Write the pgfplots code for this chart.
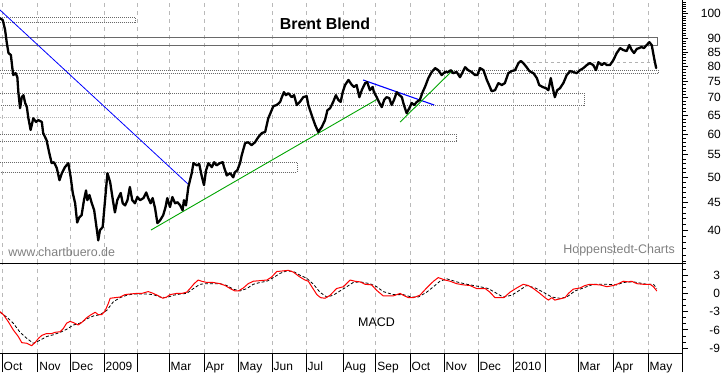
\documentclass[border=0pt]{standalone}
\usepackage{fontspec}
\setmainfont{Liberation Sans}
\usepackage{pgfplots}
\pgfplotsset{compat=1.18}
\usepackage{pgfplotstable}

\definecolor{rectgray}{RGB}{105,105,105}
\definecolor{gridgray}{RGB}{185,185,185}
\definecolor{txtgray}{RGB}{128,128,128}
\definecolor{tlgreen}{RGB}{0,165,0}
\definecolor{tlblue}{RGB}{0,0,255}

\pgfplotstableread{
m v
-0.06 98.0
0.02 97.3
0.09 93.3
0.14 88.3
0.19 84.6
0.26 83.9
0.30 79.7
0.33 77.1
0.40 77.7
0.45 76.4
0.48 71.7
0.53 67.0
0.58 70.2
0.63 70.8
0.68 68.5
0.73 67.3
0.77 64.5
0.84 61.1
0.92 64.2
1.00 63.2
1.07 63.7
1.17 63.2
1.21 60.3
1.31 58.5
1.39 55.4
1.46 53.1
1.53 53.3
1.61 52.0
1.69 49.4
1.76 50.9
1.85 52.2
1.95 53.1
2.02 50.0
2.08 46.8
2.15 44.8
2.21 41.3
2.27 42.2
2.34 42.6
2.41 45.4
2.47 47.3
2.51 45.4
2.57 46.4
2.64 44.8
2.71 43.5
2.79 40.0
2.83 38.3
2.88 40.0
2.96 40.5
3.03 45.4
3.10 50.9
3.18 49.0
3.26 45.4
3.32 43.1
3.39 45.4
3.49 46.8
3.55 44.8
3.62 44.4
3.69 45.4
3.76 48.0
3.83 45.4
3.91 44.8
3.98 46.0
4.06 45.4
4.16 45.8
4.24 46.9
4.30 45.8
4.37 44.8
4.43 45.8
4.50 43.9
4.57 41.2
4.65 41.7
4.74 42.6
4.81 44.1
4.86 45.8
4.94 44.1
5.01 46.0
5.09 44.8
5.16 45.0
5.24 44.4
5.31 43.5
5.35 45.4
5.41 44.4
5.48 48.0
5.58 50.9
5.63 53.1
5.73 52.6
5.80 52.9
5.87 50.4
5.94 48.4
6.00 51.5
6.07 53.1
6.17 52.2
6.24 53.3
6.31 52.6
6.41 53.1
6.49 53.3
6.53 52.2
6.61 50.4
6.71 50.9
6.80 50.0
6.85 51.1
6.92 51.5
7.00 53.1
7.05 54.9
7.15 57.8
7.24 58.0
7.34 57.3
7.44 58.0
7.54 59.3
7.64 60.3
7.74 60.6
7.83 64.2
7.93 66.4
7.98 67.6
8.08 67.9
8.18 68.8
8.23 70.2
8.29 71.7
8.35 70.8
8.42 71.4
8.52 70.2
8.59 70.8
8.67 67.9
8.76 68.8
8.86 70.2
8.96 70.5
9.01 67.9
9.06 66.4
9.14 64.2
9.21 62.4
9.30 60.6
9.40 61.8
9.50 63.7
9.57 66.4
9.65 67.0
9.74 68.8
9.82 70.8
9.89 69.4
9.96 68.8
10.02 71.7
10.09 73.9
10.19 75.5
10.29 73.9
10.35 73.3
10.43 73.9
10.51 70.2
10.58 72.3
10.68 74.5
10.74 74.8
10.82 72.3
10.90 73.3
10.94 71.7
11.02 70.2
11.10 68.5
11.17 67.3
11.24 69.4
11.31 70.2
11.39 69.9
11.46 67.9
11.53 69.4
11.61 71.7
11.69 70.8
11.76 70.2
11.82 67.9
11.90 65.6
11.98 67.0
12.05 68.5
12.12 67.9
12.20 68.8
12.29 69.4
12.37 71.7
12.44 73.3
12.54 76.1
12.64 78.1
12.74 79.4
12.83 78.7
12.93 77.1
13.03 78.1
13.13 78.1
13.20 78.7
13.27 77.7
13.37 78.1
13.47 76.4
13.55 78.1
13.62 79.7
13.71 78.7
13.81 78.1
13.91 77.1
13.98 77.1
14.06 79.4
14.16 78.7
14.26 75.5
14.35 73.3
14.40 72.0
14.50 72.3
14.60 74.5
14.70 73.9
14.79 74.5
14.89 77.7
14.99 78.4
15.09 78.7
15.19 81.1
15.26 81.8
15.33 81.1
15.43 79.7
15.51 78.4
15.63 77.7
15.73 76.1
15.80 73.9
15.90 73.3
16.00 72.9
16.07 72.3
16.14 76.1
16.20 72.9
16.26 70.2
16.33 72.3
16.41 72.9
16.51 74.5
16.61 77.1
16.71 78.4
16.80 78.1
16.90 77.7
17.00 78.7
17.10 79.4
17.20 80.4
17.29 81.1
17.39 80.4
17.47 78.7
17.54 81.4
17.64 80.4
17.71 81.1
17.79 80.4
17.88 80.4
17.98 82.1
18.08 84.6
18.18 86.4
18.27 85.7
18.37 85.3
18.45 87.5
18.52 85.7
18.59 84.6
18.67 86.1
18.74 86.4
18.81 86.8
18.88 86.4
18.96 87.5
19.04 88.6
19.11 87.5
19.18 82.8
19.24 79.4
}\price

\pgfplotstableread{
m v
-0.06 -3.0
0.04 -3.5
0.19 -4.7
0.33 -6.0
0.48 -7.1
0.58 -8.1
0.73 -8.2
0.87 -8.6
0.97 -8.1
1.07 -7.4
1.17 -6.9
1.31 -6.6
1.46 -6.6
1.56 -6.4
1.71 -6.3
1.80 -5.8
1.90 -4.9
2.00 -4.6
2.10 -4.8
2.24 -5.2
2.34 -4.8
2.49 -4.0
2.59 -3.6
2.74 -3.1
2.83 -3.5
2.93 -3.5
3.03 -2.9
3.13 -1.6
3.18 -0.8
3.32 -0.7
3.47 -0.6
3.62 -0.2
3.76 -0.1
3.96 0.0
4.11 0.0
4.30 0.3
4.45 0.0
4.60 -0.4
4.73 -0.8
4.84 -0.6
4.94 -0.2
5.14 0.0
5.29 0.0
5.43 0.2
5.53 0.8
5.65 1.6
5.77 2.2
5.87 2.0
6.02 1.8
6.21 1.8
6.41 1.6
6.56 1.3
6.71 0.8
6.85 0.4
6.95 0.4
7.10 0.9
7.24 1.6
7.39 2.0
7.59 2.1
7.79 2.2
7.93 2.7
8.08 3.6
8.27 3.7
8.42 3.8
8.57 3.5
8.76 2.7
8.91 2.2
9.01 2.0
9.11 1.1
9.26 -0.2
9.37 -0.7
9.50 -0.8
9.65 -0.3
9.84 0.8
10.04 1.1
10.24 2.2
10.38 2.0
10.53 1.9
10.68 1.5
10.87 1.4
11.02 0.5
11.21 -0.4
11.36 -0.4
11.51 -0.4
11.71 0.0
11.80 -0.3
11.95 -0.7
12.10 -0.7
12.29 -0.3
12.49 0.9
12.69 2.0
12.83 2.6
13.03 2.2
13.18 2.0
13.37 1.6
13.57 1.4
13.76 1.3
13.96 0.8
14.21 0.8
14.35 0.2
14.50 -0.7
14.65 -0.7
14.76 -0.7
14.94 0.2
15.14 0.9
15.33 1.5
15.48 1.3
15.63 0.8
15.82 0.0
15.97 -0.7
16.07 -1.1
16.17 -0.7
16.26 -1.1
16.41 -0.9
16.56 -0.7
16.66 0.0
16.80 0.7
17.00 0.9
17.15 1.3
17.29 1.5
17.59 1.4
17.79 1.1
17.98 1.3
18.13 1.6
18.27 2.0
18.42 1.9
18.52 2.0
18.67 1.6
18.86 1.5
19.06 1.5
19.16 1.1
19.26 0.4
}\macd

\pgfplotstableread{
m v
-0.06 -3.1
0.14 -3.9
0.33 -4.9
0.53 -6.4
0.73 -7.4
0.92 -8.2
1.12 -7.7
1.31 -7.1
1.51 -6.8
1.71 -6.4
1.90 -5.9
2.10 -5.2
2.29 -4.9
2.49 -4.2
2.69 -3.7
2.88 -3.5
3.08 -2.8
3.27 -1.4
3.47 -0.7
3.67 -0.3
3.86 -0.1
4.06 -0.1
4.26 -0.1
4.45 -0.2
4.65 -0.6
4.84 -0.7
5.04 -0.3
5.24 -0.1
5.43 0.0
5.63 0.8
5.82 1.5
6.02 1.6
6.41 1.6
6.61 1.3
6.80 0.7
7.00 0.4
7.20 0.8
7.39 1.5
7.59 1.8
7.79 2.0
7.98 2.6
8.18 3.3
8.37 3.7
8.57 3.6
8.76 3.0
8.96 2.5
9.16 1.5
9.35 0.2
9.55 -0.6
9.74 -0.3
9.94 0.4
10.14 1.1
10.33 1.8
10.53 1.9
10.82 1.6
11.02 1.1
11.21 0.3
11.51 -0.2
11.80 -0.2
12.05 -0.6
12.24 -0.6
12.49 0.2
12.69 1.1
12.88 2.0
13.08 2.4
13.37 1.9
13.67 1.5
14.06 1.1
14.30 0.8
14.55 0.0
14.74 -0.6
14.99 -0.3
15.19 0.4
15.43 1.3
15.68 0.9
15.92 0.2
16.17 -0.6
16.41 -0.8
16.61 -0.6
16.85 0.4
17.10 0.9
17.39 1.5
17.79 1.5
18.08 1.4
18.27 1.8
18.57 1.9
18.96 1.5
19.16 1.5
19.26 0.8
}\signal

\begin{document}
\begin{tikzpicture}
\useasboundingbox (0bp,0bp) rectangle (723bp,373bp);

% ---------------- price panel ----------------
\begin{axis}[
  at={(0bp,110bp)}, anchor=south west,
  scale only axis, width=682bp, height=263bp,
  xmin=-0.06, xmax=20, ymin=34.8, ymax=105.9, ymode=log,
  axis x line*=bottom, axis y line*=right,
  axis line style={-, black, line width=0.9bp},
  xtick={0,1.05,2,3,3.97,4.91,5.94,6.94,7.94,8.94,10.03,10.99,12,13,14,15.03,15.97,16.94,17.97,19},
  xticklabels={}, xtick style={draw=none},
  xmajorgrids,
  major grid style={draw=gridgray, dash pattern=on 4bp off 4bp, line width=0.8bp},
  ytick={40,45,50,55,60,65,70,75,80,85,90,100},
  yticklabels={40,45,50,55,60,65,70,75,80,85,90,100},
  minor ytick={35,36,37,38,39,41,42,43,44,46,47,48,49,51,52,53,54,56,57,58,59,61,62,63,64,66,67,68,69,71,72,73,74,76,77,78,79,81,82,83,84,86,87,88,89,91,92,93,94,95,96,97,98,99,101,102,103,104,105},
  ytick pos=right, tick align=outside,
  ytick style={black, line width=0.8bp},
  major tick length=6bp, minor tick length=3.5bp,
  yticklabel style={font=\fontsize{12}{12}\selectfont, anchor=east, inner sep=0pt, xshift=33bp},
  clip=true,
]
% support / resistance zones
\addplot[draw=rectgray, line width=0.8bp, dash pattern=on 1bp off 1bp] coordinates {(-0.3,98.4) (3.91,98.4) (3.91,96.2) (-0.3,96.2) (-0.3,98.4)};
\addplot[draw=rectgray, line width=0.9bp] coordinates {(-0.3,90.3) (19.29,90.3) (19.29,87.4) (-0.3,87.4) (-0.3,90.3)};
\addplot[draw=rectgray, line width=0.8bp, dash pattern=on 1bp off 1bp] coordinates {(-0.3,78.5) (19.32,78.5) (19.32,77.7) (-0.3,77.7) (-0.3,78.5)};
\addplot[draw=rectgray, line width=0.8bp, dash pattern=on 1bp off 1bp] coordinates {(-0.3,71.4) (17.12,71.4) (17.12,67.9) (-0.3,67.9) (-0.3,71.4)};
\addplot[draw=gray!55, line width=1.6bp, dash pattern=on 1bp off 1bp] coordinates {(-0.3,64.4) (13.62,64.4)};
\addplot[draw=rectgray, line width=0.8bp, dash pattern=on 1bp off 1bp] coordinates {(-0.3,60.0) (13.35,60.0) (13.35,58.3) (-0.3,58.3) (-0.3,60.0)};
\addplot[draw=rectgray, line width=0.8bp, dash pattern=on 1bp off 1bp] coordinates {(-0.3,53.3) (8.68,53.3) (8.68,51.1) (-0.3,51.1) (-0.3,53.3)};
\addplot[draw=gray!60, line width=0.8bp, dash pattern=on 3bp off 3bp] coordinates {(15.44,81.4) (19.29,81.4)};
% trend lines
\addplot[draw=tlblue, line width=0.8bp] coordinates {(-0.06,101.5) (5.47,48.6)};
\addplot[draw=tlgreen, line width=0.9bp] coordinates {(4.38,40.0) (11.02,69.5)};
\addplot[draw=tlblue, line width=1.1bp] coordinates {(10.62,75.5) (12.71,67.9)};
\addplot[draw=tlgreen, line width=0.9bp] coordinates {(11.71,63.2) (13.26,78.7)};
% price
\addplot[black, line width=2.3bp, line join=round, line cap=round] table[x=m, y=v] {\price};
\end{axis}

% ---------------- MACD panel ----------------
\begin{axis}[
  at={(0bp,20bp)}, anchor=south west,
  scale only axis, width=682bp, height=90bp,
  xmin=-0.06, xmax=20, ymin=-9.8, ymax=5,
  axis x line*=box, axis y line*=right,
  axis line style={-, black, line width=0.9bp},
  xtick={0,1.05,2,3,3.97,4.91,5.94,6.94,7.94,8.94,10.03,10.99,12,13,14,15.03,15.97,16.94,17.97,19,20},
  xticklabels={Oct,Nov,Dec,2009,{},Mar,Apr,May,Jun,Jul,Aug,Sep,Oct,Nov,Dec,2010,{},Mar,Apr,May,{}},
  minor x tick num=3,
  xtick pos=left,
  xmajorgrids,
  major grid style={draw=gridgray, dash pattern=on 4bp off 4bp, line width=0.8bp},
  ytick={-9,-6,-3,0,3},
  yticklabels={-9,-6,-3,0,3},
  minor ytick={-9,-8,-7,-5,-4,-2,-1,1,2,4,5},
  ytick pos=right, tick align=outside,
  xtick style={black, line width=0.8bp, /pgfplots/major tick length=19bp, /pgfplots/minor tick length=8bp},
  ytick style={black, line width=0.8bp, /pgfplots/major tick length=6bp, /pgfplots/minor tick length=3.5bp},
  xticklabel style={font=\fontsize{12}{12}\selectfont, anchor=base west, inner sep=0pt, xshift=1.5bp, yshift=-13bp},
  yticklabel style={font=\fontsize{12}{12}\selectfont, anchor=east, inner sep=0pt, xshift=34bp},
]
\addplot[draw=black, line width=0.8bp, dash pattern=on 3bp off 2bp] table[x=m, y=v] {\signal};
\addplot[draw=red, line width=1bp, line join=round] table[x=m, y=v] {\macd};
\end{axis}

% ---------------- texts ----------------
\node[anchor=base, font=\fontsize{16}{16}\selectfont\bfseries, inner sep=0pt] at (325bp,343.7bp) {Brent Blend};
\node[anchor=base west, font=\fontsize{12.5}{12.5}\selectfont, text=txtgray, inner sep=0pt] at (8.3bp,116.3bp) {www.chartbuero.de};
\node[anchor=base east, font=\fontsize{12.5}{12.5}\selectfont, text=txtgray, inner sep=0pt] at (675bp,119.5bp) {Hoppenstedt-Charts};
\node[anchor=base west, font=\fontsize{12.5}{12.5}\selectfont, inner sep=0pt] at (358bp,46.3bp) {MACD};
\end{tikzpicture}
\end{document}
